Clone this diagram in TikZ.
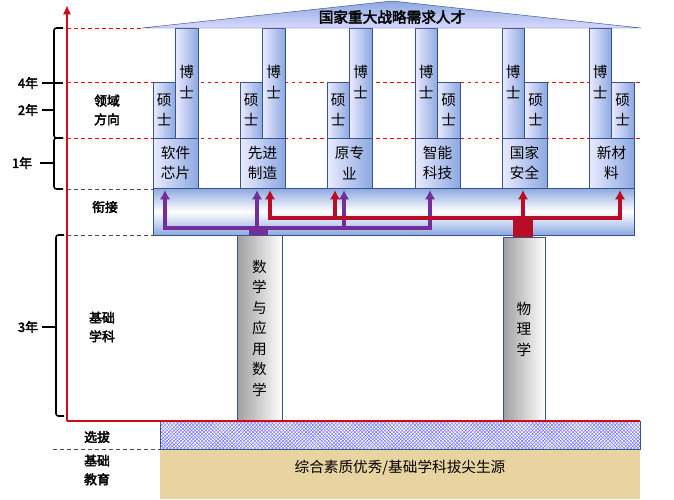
\documentclass[tikz,border=0pt]{standalone}
\usepackage{fontspec}
\setmainfont{Noto Sans CJK SC}[AutoFakeBold=3]
\usetikzlibrary{arrows.meta,patterns}
\definecolor{boxblue}{rgb}{0.55,0.66,0.88}
\definecolor{edgeblue}{rgb}{0.22,0.33,0.55}
\definecolor{axisred}{rgb}{0.80,0.05,0.10}
\definecolor{arrowred}{rgb}{0.72,0.05,0.15}
\definecolor{arrowpurple}{rgb}{0.45,0.18,0.60}
\definecolor{sand}{rgb}{0.91,0.83,0.63}
\tikzset{
  cell/.style={draw=edgeblue, left color=blue!8!white, right color=boxblue},
  bar/.style={draw=edgeblue, top color=boxblue, bottom color=boxblue, middle color=white},
  pillar/.style={draw=edgeblue, left color=gray!75, right color=white},
  txt/.style={align=center, font=\fontsize{12.5}{17.5}\selectfont},
  lbl/.style={align=center, font=\bfseries\fontsize{11}{16}\selectfont},
  reddash/.style={red, dashed, semithick},
  grydash/.style={black!70, dashed, semithick},
  brace/.style={black, line width=1.3pt, rounded corners=2pt},
  purp/.style={arrowpurple, line width=3.6pt, -{Latex[length=8pt,width=9pt]}},
  redarr/.style={arrowred, line width=3.6pt, -{Latex[length=8pt,width=9pt]}}
}
\begin{document}
\begin{tikzpicture}[x=0.03cm, y=-0.03cm]
  \useasboundingbox (0,0) rectangle (674,499);
  % dashed level lines
  \draw[reddash] (67,28) -- (143,28);
  \draw[reddash] (67,82) -- (640,82);
  \draw[reddash] (67,138) -- (640,138);
  \draw[grydash] (67,189) -- (153,189);
  \draw[grydash] (67,235) -- (153,235);

  % basis and selection
  \fill[sand] (160,449) rectangle (640,499);
  \node[txt] (src) at (400,468) {综合素质优秀/基础学科拔尖生源};
  \fill[white] (160,421) rectangle (640,449);
  \draw[edgeblue, pattern=crosshatch, pattern color=blue!55] (160,421) rectangle (640,449);

  % pillars
  \draw[pillar] (237,235) rectangle (282,421) node[midway, txt] (math) {数\\学\\与\\应\\用\\数\\学};
  \draw[pillar] (503,237) rectangle (545,421) node[midway, txt] (phys) {物\\理\\学};

  % bridging bar
  \draw[bar] (153,188) rectangle (634,235) node[midway] (link) {};

  % master / doctor / domain columns
  \foreach \m/\d/\g/\dom in {153/175.5/153/{软件\\芯片}, 240/262.5/240/{先进\\制造},
      327/349.5/327/{原专\\业}, 437.5/415/415/{智能\\科技},
      524.5/502/502/{国家\\安全}, 611.5/589/589/{新材\\料}}{
    \draw[cell] (\m,82) rectangle ++(22.5,56) node[midway, txt] {硕\\士};
    \draw[cell] (\d,28) rectangle ++(22.5,110);
    \node[txt] at (\d+11.25,82) {博\\士};
    \draw[cell] (\g,138) rectangle ++(45,50) node[midway, txt] {\dom};
  }

  % roof
  \draw[edgeblue, top color=boxblue, bottom color=blue!15!white] (142,28) -- (392,1) -- (641,28) -- cycle;
  \node[txt, font=\bfseries\fontsize{12.5}{14}\selectfont] (roof) at (392,17) {国家重大战略需求人才};

  % purple routes
  \fill[arrowpurple] (249,226) rectangle (268,235);
  \draw[arrowpurple, line width=3.6pt] (165,228) -- (430,228);
  \foreach \x in {165,257,344,430}
    \draw[purp] (\x,230) -- (\x,190);
  % red routes
  \fill[arrowred] (513,216) rectangle (533,237);
  \draw[arrowred, line width=3.6pt] (270,218) -- (620,218);
  \foreach \x in {270,335,523,620}
    \draw[redarr] (\x,220) -- (\x,190);

  % time axis
  \draw[axisred, line width=2.2pt] (67,421) -- (640,421);
  \draw[axisred, line width=2.2pt, -{Latex[length=8pt,width=7pt]}] (67,421) -- (67,5);

  % braces and years
  \draw[brace] (63,28) -- (54,28) -- (54,138) -- (63,138);
  \draw[brace] (63,138) -- (54,138) -- (54,189) -- (63,189);
  \draw[brace] (64,235) -- (56,235) -- (56,416) -- (64,416);
  \node[lbl] (y4) at (28,83) {4年};
  \node[lbl] (y2) at (28,110) {2年};
  \node[lbl] (y1) at (22,163) {1年};
  \node[lbl] (y3) at (28,327) {3年};
  \draw[line width=1.3pt] (y4.east) -- (63,83);
  \draw[line width=1.3pt] (y2.east) -- (54,110);
  \draw[line width=1.3pt] (y1.east) ++(4,0) -- (54,163);
  \draw[line width=1.3pt] (y3.east) -- (56,327);

  % stage labels
  \node[lbl] (field) at (107,110) {领域\\方向};
  \node[lbl] (join) at (105,207) {衔接};
  \node[lbl] (basic) at (102,327) {基础\\学科};
  \node[lbl] (pick) at (97,437) {选拔};
  \node[lbl] (edu) at (97,470) {基础\\教育};
  \draw[grydash] (53,449) -- (160,449);
\end{tikzpicture}
\end{document}
